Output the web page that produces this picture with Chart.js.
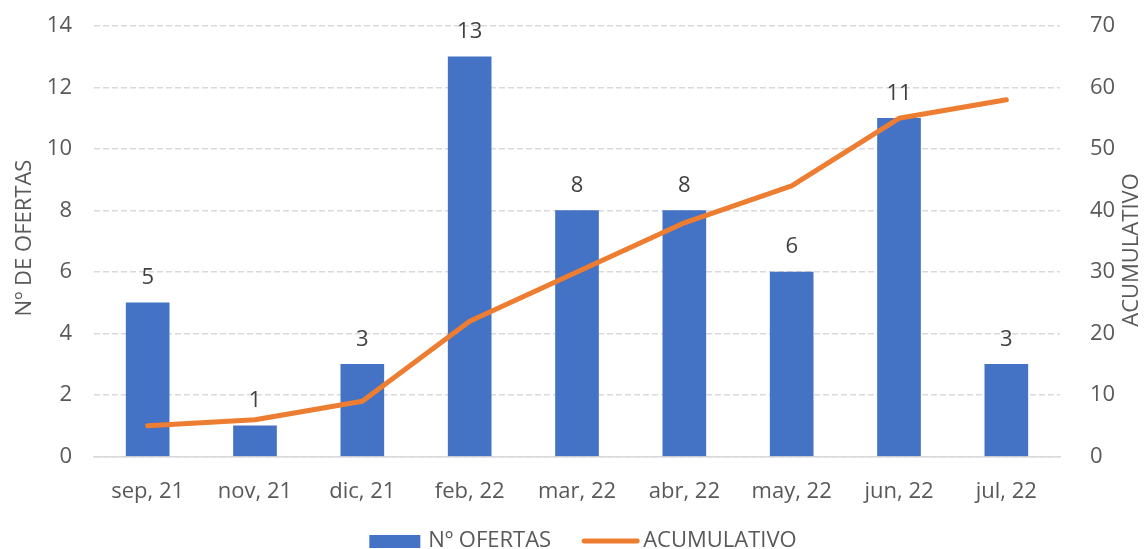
<!DOCTYPE html>
<html>
<head>
<meta charset="utf-8">
<script src="https://cdn.jsdelivr.net/npm/chart.js@4"></script>
<style>
  html, body { margin: 0; padding: 0; background: #fff; }
  #wrap { width: 1146px; height: 549px; }
</style>
</head>
<body>
<div id="wrap"><canvas id="myChart" width="1146" height="549"></canvas></div>
<script>
// categories and values
const months = ['sep, 21', 'nov, 21', 'dic, 21', 'feb, 22', 'mar, 22', 'abr, 22', 'may, 22', 'jun, 22', 'jul, 22'];
const ofertas = [5, 1, 3, 13, 8, 8, 6, 11, 3];
const acumulativo = [5, 6, 9, 22, 30, 38, 44, 55, 58];
const leftTicks = [0, 2, 4, 6, 8, 10, 12, 14];
const rightTicks = [0, 10, 20, 30, 40, 50, 60, 70];

const FONT = "'Open Sans', 'Liberation Sans', sans-serif";
const BLUE = '#4472C4';
const ORANGE = '#ED7D31';
const GREY = '#595959';
const FSIZE = 22;

//Draws the numbers above the bars
const barLabels = {
  id: 'barLabels',
  afterDatasetsDraw(chart) {
    const ctx = chart.ctx;
    const meta = chart.getDatasetMeta(1);
    ctx.save();
    ctx.font = FSIZE + 'px ' + FONT;
    ctx.fillStyle = '#404040';
    ctx.textAlign = 'center';
    ctx.textBaseline = 'middle';
    meta.data.forEach((bar, i) => {
      ctx.fillText(String(ofertas[i]), bar.x, bar.y - 25);
    });
    ctx.restore();
  }
};

//Axis titles, both read bottom to top
const axisTitles = {
  id: 'axisTitles',
  afterDraw(chart) {
    const ctx = chart.ctx;
    ctx.save();
    ctx.font = FSIZE + 'px ' + FONT;
    ctx.fillStyle = GREY;
    ctx.textAlign = 'center';
    ctx.textBaseline = 'middle';
    [['Nº DE OFERTAS', 25, 238], ['ACUMULATIVO', 1132, 250]].forEach(([txt, x, y]) => {
      ctx.save();
      ctx.translate(x, y);
      ctx.rotate(-Math.PI / 2);
      ctx.fillText(txt, 0, 0);
      ctx.restore();
    });
    ctx.restore();
  }
};

//Legend drawn by hand so spacing matches the picture
const bottomLegend = {
  id: 'bottomLegend',
  afterDraw(chart) {
    const ctx = chart.ctx;
    const y = 541;
    ctx.save();
    ctx.font = FSIZE + 'px ' + FONT;
    ctx.textBaseline = 'middle';
    ctx.textAlign = 'left';
    const t1 = 'Nº OFERTAS', t2 = 'ACUMULATIVO';
    const w1 = ctx.measureText(t1).width, w2 = ctx.measureText(t2).width;
    const total = 51 + 8 + w1 + 31 + 57 + 4 + w2;
    let x = 583 - total / 2;
    ctx.fillStyle = BLUE;
    ctx.fillRect(x, y - 6, 51, 13);
    x += 51 + 8;
    ctx.fillStyle = GREY;
    ctx.fillText(t1, x, y);
    x += w1 + 31;
    ctx.strokeStyle = ORANGE;
    ctx.lineWidth = 5;
    ctx.lineCap = 'round';
    ctx.beginPath();
    ctx.moveTo(x + 2, y);
    ctx.lineTo(x + 55, y);
    ctx.stroke();
    x += 57 + 4;
    ctx.fillText(t2, x, y);
    ctx.restore();
  }
};

const ctx = document.getElementById('myChart').getContext('2d');
new Chart(ctx, {
  type: 'bar',
  data: {
    labels: months,
    datasets: [
      {
        type: 'line',
        label: 'ACUMULATIVO',
        data: acumulativo,
        yAxisID: 'y1',
        borderColor: ORANGE,
        backgroundColor: ORANGE,
        borderWidth: 5,
        borderCapStyle: 'round',
        borderJoinStyle: 'round',
        tension: 0,
        pointRadius: 0,
        order: 0
      },
      {
        type: 'bar',
        label: 'Nº OFERTAS',
        data: ofertas,
        yAxisID: 'y',
        backgroundColor: BLUE,
        barThickness: 43,
        order: 1
      }
    ]
  },
  options: {
    responsive: false,
    animation: false,
    layout: { padding: { top: 26, bottom: 30, left: 0, right: 0 } },
    plugins: {
      tooltip: { enabled: false },
      legend: { display: false }
    },
    scales: {
      x: {
        grid: { display: false },
        border: { display: true, color: '#D9D9D9', width: 1.5 },
        ticks: { color: GREY, font: { family: FONT, size: FSIZE }, padding: 14 }
      },
      y: {
        position: 'left',
        min: 0,
        max: 14,
        afterBuildTicks(axis) { axis.ticks = leftTicks.map(v => ({ value: v })); },
        afterFit(axis) { axis.width = 94; axis.paddingTop = 0; axis.paddingBottom = 0; },
        grid: { color: '#D9D9D9', lineWidth: 1.5, drawTicks: false },
        border: { display: false, dash: [6, 3] },
        ticks: { color: GREY, font: { family: FONT, size: FSIZE }, padding: 22 }
      },
      y1: {
        position: 'right',
        min: 0,
        max: 70,
        afterBuildTicks(axis) { axis.ticks = rightTicks.map(v => ({ value: v })); },
        afterFit(axis) { axis.width = 86; axis.paddingTop = 0; axis.paddingBottom = 0; },
        grid: { display: false },
        border: { display: false },
        ticks: { color: GREY, font: { family: FONT, size: FSIZE }, padding: 22 }
      }
    }
  },
  plugins: [barLabels, axisTitles, bottomLegend]
});
</script>
</body>
</html>
